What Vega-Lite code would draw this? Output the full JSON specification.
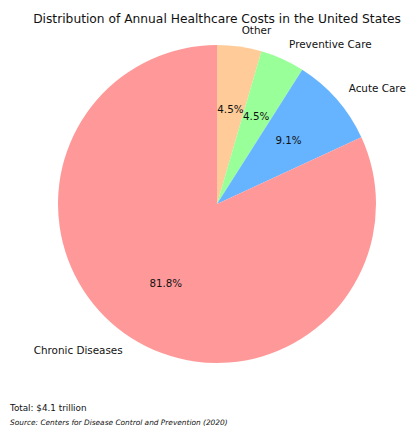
{
  "$schema": "https://vega.github.io/schema/vega-lite/v6.json",
  "padding": {"left": 10, "top": 13, "right": 0, "bottom": 0},
  "title": {"text": "Distribution of Annual Healthcare Costs in the United States", "fontSize": 12.25, "fontWeight": "normal", "font": "DejaVu Sans", "color": "#111111", "anchor": "middle", "offset": 0},
  "data": {"values": [
    {"category": "Other", "share": 0.045, "idx": 0},
    {"category": "Preventive Care", "share": 0.045, "idx": 1},
    {"category": "Acute Care", "share": 0.091, "idx": 2},
    {"category": "Chronic Diseases", "share": 0.818, "idx": 3}
  ]},
  "vconcat": [
    {
      "width": 414,
      "height": 350,
      "title": {"text": "Total: $4.1 trillion", "subtitle": "Source: Centers for Disease Control and Prevention (2020)", "orient": "bottom", "anchor": "start", "fontSize": 8.8, "fontWeight": "normal", "font": "DejaVu Sans", "color": "#111111", "subtitleFont": "DejaVu Sans", "subtitleFontSize": 7.4, "subtitleFontStyle": "italic", "subtitleColor": "#111111", "subtitlePadding": 6, "offset": 25},
      "encoding": {
        "theta": {"field": "share", "type": "quantitative", "stack": true},
        "order": {"field": "idx", "type": "quantitative"}
      },
      "layer": [
        {
          "mark": {"type": "arc", "outerRadius": 159},
          "encoding": {
            "color": {"field": "category", "type": "nominal", "legend": null,
              "scale": {"domain": ["Other", "Preventive Care", "Acute Care", "Chronic Diseases"], "range": ["#ffcc99", "#99ff99", "#66b3ff", "#ff9999"]}}
          }
        },
        {
          "mark": {"type": "text", "radius": 95, "font": "DejaVu Sans", "fontSize": 10.3, "color": "#111111"},
          "encoding": {"text": {"field": "share", "type": "quantitative", "format": ".1%"}}
        },
        {
          "mark": {"type": "text", "radius": 175, "font": "DejaVu Sans", "fontSize": 10.4, "color": "#111111", "align": "left", "baseline": "middle"},
          "encoding": {"text": {"condition": {"test": "datum.category !== 'Chronic Diseases'", "field": "category"}, "value": ""}}
        },
        {
          "mark": {"type": "text", "radius": 175, "font": "DejaVu Sans", "fontSize": 10.4, "color": "#111111", "align": "right", "baseline": "middle"},
          "encoding": {"text": {"condition": {"test": "datum.category === 'Chronic Diseases'", "field": "category"}, "value": ""}}
        }
      ]
    }
  ],
  "config": {"view": {"stroke": null}}
}
